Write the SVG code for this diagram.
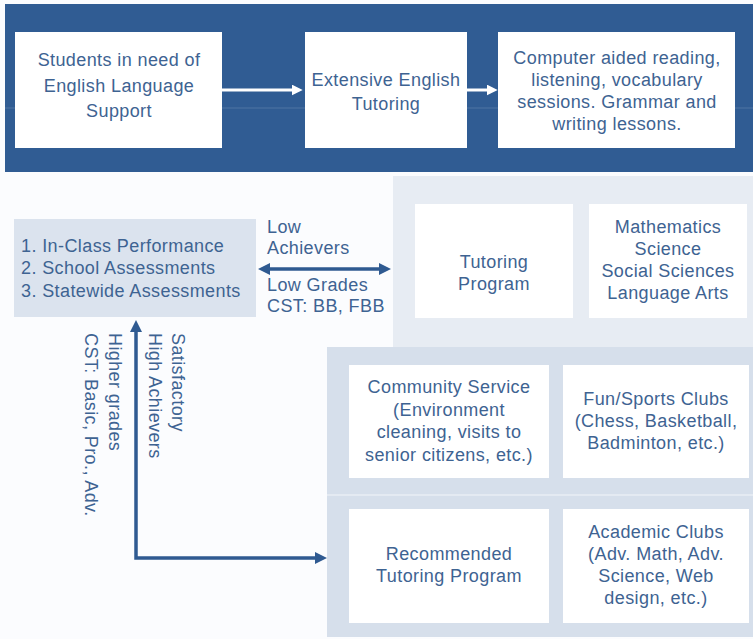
<svg xmlns="http://www.w3.org/2000/svg" width="753" height="639" viewBox="0 0 753 639">
<defs>
<style>
text{font-family:"Liberation Sans",Arial,sans-serif;font-size:18px;fill:#3e6392;letter-spacing:0.4px;}
.c{text-anchor:middle;}
.box{fill:#ffffff;}
.conn{fill:none;stroke:#2f5a91;stroke-width:3.5;}
.wconn{fill:none;stroke:#ffffff;stroke-width:3;}
</style>
<marker id="ah" viewBox="0 0 10 10" refX="3" refY="5" markerWidth="12" markerHeight="12" markerUnits="userSpaceOnUse" orient="auto-start-reverse">
<path d="M0,0 L10,5 L0,10 z" fill="#2f5a91"/>
</marker>
<marker id="wh" viewBox="0 0 10 10" refX="3" refY="5" markerWidth="11" markerHeight="11" markerUnits="userSpaceOnUse" orient="auto">
<path d="M0,0 L10,5 L0,10 z" fill="#ffffff"/>
</marker>
</defs>
<rect x="0" y="0" width="753" height="639" fill="#fbfcfe"/>
<rect id="band" x="5" y="4" width="748" height="168" fill="#305c93"/>
<line x1="5" y1="108" x2="753" y2="108" stroke="#ffffff" stroke-opacity="0.15" stroke-width="1"/>
<rect id="panel-upper" x="393" y="176" width="360" height="171" fill="#e7ecf3"/>
<rect id="panel-lower" x="327" y="347" width="426" height="290" fill="#d6dfeb"/>
<line x1="327" y1="495" x2="753" y2="495" stroke="#e4eaf2" stroke-width="2"/>

<g id="n-students">
<rect class="box" x="15" y="32" width="207" height="116"/>
<text class="c" x="119" y="66" font-size="20" letter-spacing="0.2">Students in need of</text>
<text class="c" x="119" y="92" font-size="20" letter-spacing="0.2">English Language</text>
<text class="c" x="119" y="117" font-size="20" letter-spacing="0.2">Support</text>
</g>
<g id="n-extensive">
<rect class="box" x="305" y="32" width="162" height="116"/>
<text class="c" x="386" y="86">Extensive English</text>
<text class="c" x="386" y="110">Tutoring</text>
</g>
<g id="n-computer">
<rect class="box" x="498" y="32" width="237" height="116"/>
<text class="c" x="617" y="64" font-size="19" letter-spacing="0.3">Computer aided reading,</text>
<text class="c" x="617" y="86" font-size="19" letter-spacing="0.3">listening, vocabulary</text>
<text class="c" x="617" y="108" font-size="19" letter-spacing="0.3">sessions. Grammar and</text>
<text class="c" x="617" y="130" font-size="19" letter-spacing="0.3">writing lessons.</text>
</g>
<g id="n-assess">
<rect x="14" y="219" width="242" height="98" fill="#dbe3ee"/>
<text x="21" y="252">1. In-Class Performance</text>
<text x="21" y="274">2. School Assessments</text>
<text x="21" y="297">3. Statewide Assessments</text>
</g>
<g id="n-tutoring">
<rect class="box" x="415" y="204" width="158" height="114"/>
<text class="c" x="494" y="268">Tutoring</text>
<text class="c" x="494" y="290">Program</text>
</g>
<g id="n-subjects">
<rect class="box" x="589" y="204" width="158" height="114"/>
<text class="c" x="668" y="233">Mathematics</text>
<text class="c" x="668" y="255">Science</text>
<text class="c" x="668" y="277">Social Sciences</text>
<text class="c" x="668" y="299">Language Arts</text>
</g>
<g id="n-community">
<rect class="box" x="349" y="365" width="200" height="113"/>
<text class="c" x="449" y="393">Community Service</text>
<text class="c" x="449" y="416">(Environment</text>
<text class="c" x="449" y="438">cleaning, visits to</text>
<text class="c" x="449" y="461">senior citizens, etc.)</text>
</g>
<g id="n-fun">
<rect class="box" x="563" y="365" width="186" height="113"/>
<text class="c" x="656" y="405">Fun/Sports Clubs</text>
<text class="c" x="656" y="427">(Chess, Basketball,</text>
<text class="c" x="656" y="449">Badminton, etc.)</text>
</g>
<g id="n-recommended">
<rect class="box" x="349" y="509" width="200" height="114"/>
<text class="c" x="449" y="560">Recommended</text>
<text class="c" x="449" y="582">Tutoring Program</text>
</g>
<g id="n-academic">
<rect class="box" x="563" y="509" width="186" height="114"/>
<text class="c" x="656" y="538">Academic Clubs</text>
<text class="c" x="656" y="560">(Adv. Math, Adv.</text>
<text class="c" x="656" y="582">Science, Web</text>
<text class="c" x="656" y="604">design, etc.)</text>
</g>

<g id="connectors">
<line class="wconn" x1="222" y1="90" x2="295" y2="90" marker-end="url(#wh)"/>
<line class="wconn" x1="467" y1="90" x2="490" y2="90" marker-end="url(#wh)"/>
<line class="conn" stroke-width="3" x1="266.4" y1="269" x2="382.6" y2="269" marker-start="url(#ah)" marker-end="url(#ah)"/>
<path class="conn" d="M136,328.4 V558 H318.6" marker-start="url(#ah)" marker-end="url(#ah)"/>
<text x="267" y="233">Low</text>
<text x="267" y="254">Achievers</text>
<text x="267" y="291">Low Grades</text>
<text x="267" y="312">CST: BB, FBB</text>
<text transform="translate(172,333) rotate(90)">Satisfactory</text>
<text transform="translate(149,333) rotate(90)">High Achievers</text>
<text transform="translate(109,333) rotate(90)">Higher grades</text>
<text transform="translate(85,333) rotate(90)">CST: Basic, Pro., Adv.</text>
</g>
</svg>
